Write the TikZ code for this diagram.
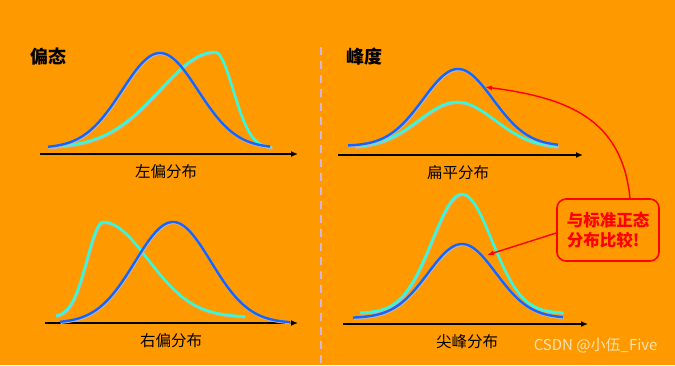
\documentclass[tikz,border=0pt]{standalone}
\usepackage{fontspec}
\newfontfamily\cjk{Noto Sans CJK SC}
\usetikzlibrary{arrows.meta}
\definecolor{bg}{RGB}{255,153,0}
\definecolor{bluec}{RGB}{20,100,255}
\definecolor{cyanc}{RGB}{50,250,220}
\definecolor{dashc}{RGB}{212,180,222}
\definecolor{shadc}{RGB}{195,180,175}
\definecolor{wm}{RGB}{252,226,180}
\tikzset{
  shad/.style={preaction={draw=shadc, line width=2.4pt, transform canvas={xshift=0.6pt,yshift=-0.9pt}}},
  curveb/.style={shad, draw=bluec, line width=2.4pt, line join=round},
  curvec/.style={shad, draw=cyanc, line width=2.4pt, line join=round},
  axis/.style={draw=black, line width=1.8pt, -{Latex[length=7pt,width=6pt]}},
  title/.style={font=\cjk\bfseries\fontsize{18}{20}\selectfont, text=black},
  lbl/.style={font=\cjk\fontsize{15.5}{18}\selectfont, text=black},
  redarr/.style={draw=red, line width=1.4pt, -{Latex[length=7pt,width=5pt]}},
}
\begin{document}
\begin{tikzpicture}[x=1pt,y=-1pt]
\fill[bg] (0,0) rectangle (675,365);
\useasboundingbox (0,0) rectangle (675,365);
% divider
\draw[dashc, line width=2.8pt, dash pattern=on 8pt off 6pt] (321,47) -- (321,365);
% titles
\node[title] (t1) at (48,57) {偏态};
\node[title] (t2) at (364,57) {峰度};
% ---------- top left ----------
\coordinate (a1s) at (40,154); \coordinate (a1e) at (298,154);
\draw[axis] (a1s) -- (a1e);
\draw[curvec] plot[domain=48:215, samples=80] (\x,{148-96*exp(-0.5*((\x-215)/55)*((\x-215)/55))})
  -- plot[domain=215:272, samples=40] (\x,{148-96*exp(-0.5*((\x-215)/18)*((\x-215)/18))});
\draw[curveb] plot[domain=48:270, samples=100] (\x,{148-95*exp(-0.5*((\x-160)/38)*((\x-160)/38))});
\node[lbl] (l1) at (166,172) {左偏分布};
% ---------- bottom left ----------
\coordinate (a2s) at (45,323); \coordinate (a2e) at (298,323);
\draw[axis] (a2s) -- (a2e);
\draw[curvec] plot[domain=56:103, samples=40] (\x,{317-95*exp(-0.5*((\x-103)/16)*((\x-103)/16))})
  -- plot[domain=103:245, samples=80] (\x,{317-95*exp(-0.5*((\x-103)/45)*((\x-103)/45))});
\draw[curveb] plot[domain=60:290, samples=100] (\x,{323-101*exp(-0.5*((\x-173)/38)*((\x-173)/38))});
\node[lbl] (l2) at (171,341) {右偏分布};
% ---------- top right ----------
\coordinate (a3s) at (338,155); \coordinate (a3e) at (583,155);
\draw[axis] (a3s) -- (a3e);
\draw[curvec] plot[domain=355:558, samples=80] (\x,{148-46*exp(-0.5*((\x-457)/38)*((\x-457)/38))});
\draw[curveb] plot[domain=348:558, samples=80] (\x,{146-77*exp(-0.5*((\x-458)/35)*((\x-458)/35))});
\node[lbl] (l3) at (458,173) {扁平分布};
% ---------- bottom right ----------
\coordinate (a4s) at (343,324); \coordinate (a4e) at (588,324);
\draw[axis] (a4s) -- (a4e);
\draw[curvec] plot[domain=360:563, samples=80] (\x,{313-119*exp(-0.5*((\x-462)/30)*((\x-462)/30))});
\draw[curveb] plot[domain=353:563, samples=80] (\x,{318-74*exp(-0.5*((\x-462)/34)*((\x-462)/34))});
\node[lbl] (l4) at (467,342) {尖峰分布};
% ---------- callout ----------
\node[draw=red, line width=1.6pt, rounded corners=9pt, minimum width=102pt, minimum height=62pt,
      align=left, text=red, font=\cjk\bfseries\fontsize{16.5}{20}\selectfont, inner sep=2pt] (cmp) at (608,230)
      {与标准正态\\分布比较!};
\coordinate (tip1) at (485,87);
\coordinate (tip2) at (487,255);
\draw[redarr] ([xshift=22pt]cmp.north) .. controls (622,120) and (570,98) .. (tip1);
\draw[redarr] ([yshift=-3pt]cmp.west) -- (tip2);
% watermark
\node[font=\cjk\fontsize{15}{18}\selectfont, text=wm, anchor=east] (wmk) at (661,346) {CSDN @小伍\_Five};
\end{tikzpicture}
\end{document}
